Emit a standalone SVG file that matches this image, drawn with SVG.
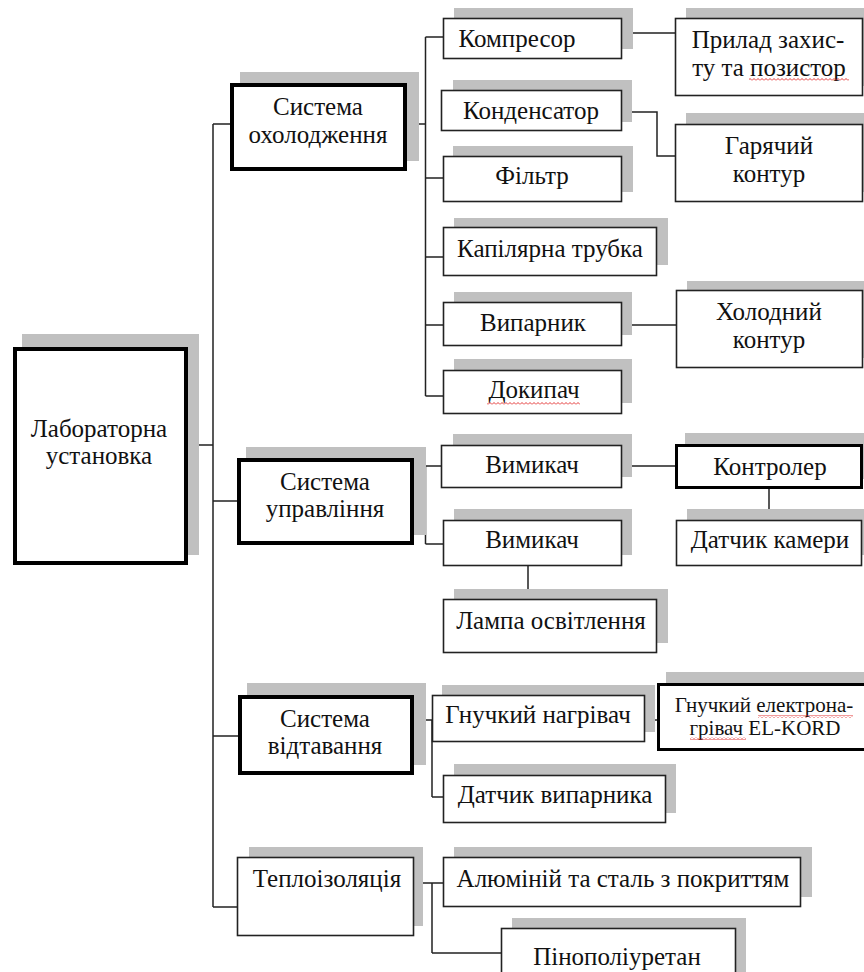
<svg xmlns="http://www.w3.org/2000/svg" width="864" height="972" viewBox="0 0 864 972">
<style>
.sh{fill:#c0c0c0}
.bx{fill:#fff;stroke:#222;stroke-width:1.6}
.bt{fill:#fff;stroke:#000;stroke-width:4}
.bm{fill:#fff;stroke:#000;stroke-width:3}
.t{font-family:"Liberation Serif","Times New Roman",serif;font-size:25px;fill:#111;text-anchor:middle}
.ts{font-size:21px}
.c{fill:none;stroke:#222;stroke-width:1.5}
.sp{fill:url(#wave)}
</style>
<defs>
<pattern id="wave" x="0" y="0" width="4" height="3" patternUnits="userSpaceOnUse"><path d="M0,2.5L2,0.5L4,2.5" fill="none" stroke="#e02020" stroke-width="0.9"/></pattern>
</defs>
<rect width="864" height="972" fill="#fff"/>
<g id="connectors">
<path class="c" d="M188,445H213M213,124V907M213,124H230M213,501H237M213,736H238M213,907H237"/>
<path class="c" d="M407,124H425.5M425.5,37V396M425.5,37H443M425.5,178H443M425.5,257H443M425.5,325H443M425.5,396H443"/>
<path class="c" d="M622,33H675M622,112H657V156H675M622,325H676"/>
<path class="c" d="M414,501H425.5M425.5,466V544M425.5,466H441M425.5,544H443"/>
<path class="c" d="M622,466H675M769,489V520M528,566V599"/>
<path class="c" d="M414,720H432M432,720V797M432,797H443M645,720H657"/>
<path class="c" d="M414,883H432M432,883V953M432,883H443M432,953H501"/>
</g>
<g id="n-lab"><rect class="sh" x="22" y="334" width="177" height="221"/><rect class="bt" x="15" y="349" width="171" height="214"/><text class="t" x="99" y="437">Лабораторна</text><text class="t" x="99" y="464">установка</text></g>
<g id="n-cool"><rect class="sh" x="240" y="72" width="179" height="89"/><rect class="bt" x="232" y="85" width="173" height="84"/><text class="t" x="318" y="115">Система</text><text class="t" x="318" y="143">охолодження</text></g>
<g id="n-ctrl"><rect class="sh" x="246" y="447" width="180" height="88"/><rect class="bt" x="239" y="460" width="173" height="83"/><text class="t" x="325" y="490">Система</text><text class="t" x="325" y="517">управління</text></g>
<g id="n-defr"><rect class="sh" x="247" y="683" width="179" height="82"/><rect class="bt" x="240" y="697" width="172" height="76"/><text class="t" x="325" y="727">Система</text><text class="t" x="325" y="754">відтавання</text></g>
<g id="n-ins"><rect class="sh" x="249" y="847" width="174" height="79"/><rect class="bx" x="237.5" y="857.5" width="176" height="78"/><text class="t" x="327" y="887">Теплоізоляція</text></g>
<g id="n-comp"><rect class="sh" x="454" y="8" width="179" height="41"/><rect class="bx" x="443.5" y="18.5" width="178" height="40"/><text class="t" x="517" y="47">Компресор</text></g>
<g id="n-prot"><rect class="sh" x="686" y="8" width="178" height="78"/><rect class="bx" x="675.5" y="18.5" width="187" height="77"/><text class="t" x="768" y="48">Прилад захис-</text><text class="t" x="769" y="76">ту та позистор</text><rect class="sp" x="749" y="78" width="100" height="3"/></g>
<g id="n-cond"><rect class="sh" x="453" y="80" width="179" height="42"/><rect class="bx" x="441.5" y="90.5" width="180" height="40"/><text class="t" x="531" y="119">Конденсатор</text></g>
<g id="n-hot"><rect class="sh" x="686" y="113" width="178" height="79"/><rect class="bx" x="675.5" y="124.5" width="187" height="77"/><text class="t" x="769" y="154">Гарячий</text><text class="t" x="769" y="182">контур</text></g>
<g id="n-filt"><rect class="sh" x="453" y="146" width="180" height="46"/><rect class="bx" x="443.5" y="156.5" width="178" height="45"/><text class="t" x="532" y="184">Фільтр</text></g>
<g id="n-cap"><rect class="sh" x="454" y="218" width="214" height="47"/><rect class="bx" x="443.5" y="227.5" width="213" height="48"/><text class="t" x="550" y="257">Капілярна трубка</text></g>
<g id="n-evap"><rect class="sh" x="454" y="292" width="178" height="43"/><rect class="bx" x="443.5" y="302.5" width="178" height="43"/><text class="t" x="533" y="331">Випарник</text></g>
<g id="n-cold"><rect class="sh" x="687" y="281" width="177" height="77"/><rect class="bx" x="676.5" y="290.5" width="186" height="77"/><text class="t" x="769" y="320">Холодний</text><text class="t" x="769" y="348">контур</text></g>
<g id="n-boil"><rect class="sh" x="454" y="359" width="178" height="44"/><rect class="bx" x="443.5" y="370.5" width="178" height="43"/><text class="t" x="534" y="398">Докипач</text><rect class="sp" x="487" y="402" width="93" height="3"/></g>
<g id="n-sw1"><rect class="sh" x="453" y="434" width="179" height="43"/><rect class="bx" x="441.5" y="445.5" width="180" height="42"/><text class="t" x="532" y="473">Вимикач</text></g>
<g id="n-ctl"><rect class="sh" x="685" y="433" width="179" height="46"/><rect class="bm" x="676.5" y="445.5" width="185" height="42"/><text class="t" x="770" y="475">Контролер</text></g>
<g id="n-camsens"><rect class="sh" x="687" y="509" width="177" height="46"/><rect class="bx" x="676.5" y="520.5" width="185" height="45"/><text class="t" x="770" y="548">Датчик камери</text></g>
<g id="n-sw2"><rect class="sh" x="454" y="509" width="178" height="46"/><rect class="bx" x="443.5" y="520.5" width="178" height="45"/><text class="t" x="532" y="548">Вимикач</text></g>
<g id="n-lamp"><rect class="sh" x="454" y="589" width="214" height="54"/><rect class="bx" x="443.5" y="599.5" width="213" height="53"/><text class="t" x="551" y="629">Лампа освітлення</text></g>
<g id="n-flexh"><rect class="sh" x="442" y="685" width="213" height="47"/><rect class="bx" x="432.5" y="695.5" width="212" height="46"/><text class="t" x="538" y="723">Гнучкий нагрівач</text></g>
<g id="n-elkord"><rect class="sh" x="666" y="672" width="200" height="68"/><rect class="bm" x="658.5" y="684.5" width="210" height="65"/><text class="t ts" x="764" y="712">Гнучкий електрона-</text><text class="t ts" x="765" y="735">грівач EL-KORD</text><rect class="sp" x="758" y="715" width="95" height="3"/><rect class="sp" x="690" y="737" width="56" height="3"/></g>
<g id="n-evsens"><rect class="sh" x="454" y="764" width="222" height="49"/><rect class="bx" x="443.5" y="775.5" width="222" height="47"/><text class="t" x="555" y="803">Датчик випарника</text></g>
<g id="n-alu"><rect class="sh" x="454" y="847" width="358" height="50"/><rect class="bx" x="443.5" y="857.5" width="357" height="49"/><text class="t" x="623" y="887">Алюміній та сталь з покриттям</text></g>
<g id="n-pu"><rect class="sh" x="512" y="918" width="234" height="60"/><rect class="bx" x="501.5" y="928.5" width="234" height="50"/><text class="t" x="617" y="965">Пінополіуретан</text></g>
</svg>
